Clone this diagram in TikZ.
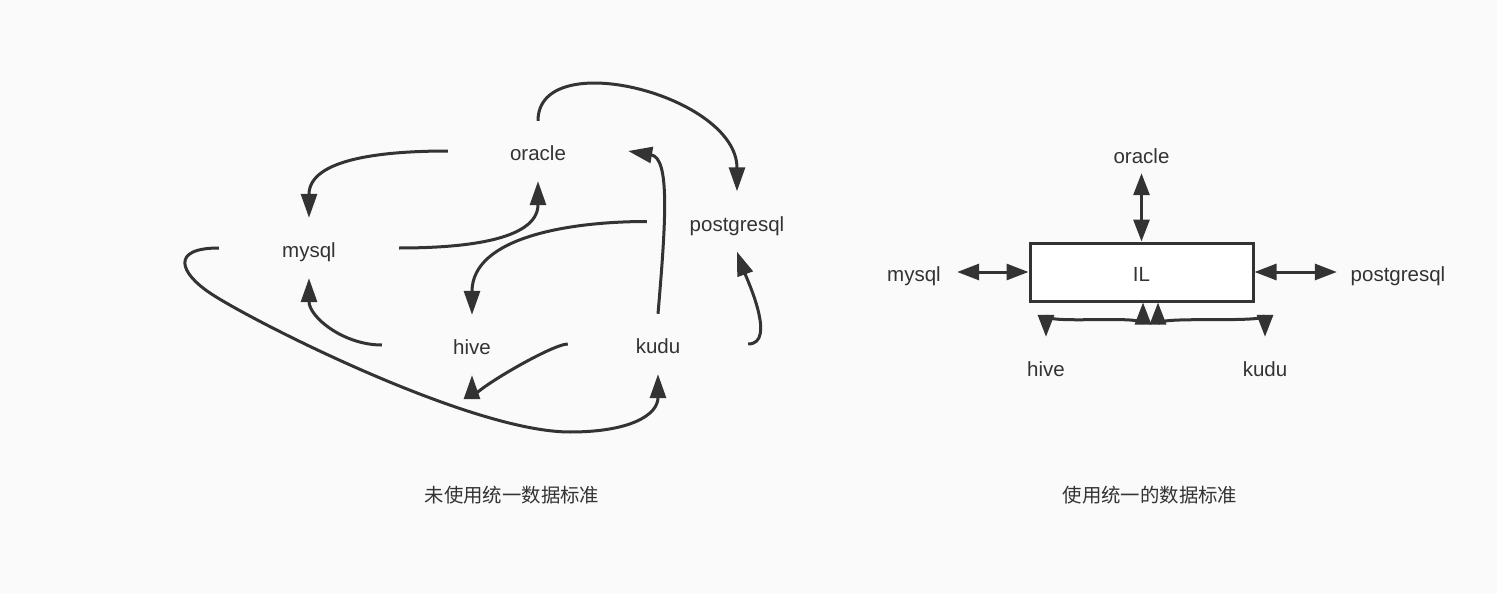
\documentclass[tikz,border=0pt]{standalone}
\usepackage{fontspec}
\setmainfont{Liberation Sans}
\newfontfamily\cjk{Noto Sans CJK SC}
\usepackage{pgf, tikz}
\usetikzlibrary{arrows.meta, calc}
\definecolor{ink}{HTML}{333333}
\definecolor{paper}{HTML}{FAFAFA}
\tikzset{
    db/.style={minimum width=180pt, minimum height=60pt, inner sep=0pt, text=ink,
        font=\fontsize{20.5}{24}\selectfont, text height=19pt, text depth=0pt},
    tag/.style={inner sep=0pt, text=ink,
        font=\fontsize{20.5}{24}\selectfont, text height=19pt, text depth=0pt},
    flow/.style={draw=ink, line width=3pt, -{Triangle[length=24pt, width=16pt]}},
    twoway/.style={draw=ink, line width=3pt,
        {Triangle[length=22pt, width=16pt]}-{Triangle[length=22pt, width=16pt]}},
    caption/.style={inner sep=0pt, text=ink, font=\cjk\fontsize{19.4}{23}\selectfont}
}

\begin{document}
\begin{tikzpicture}[x=1pt, y=1pt]
    \fill[paper] (0,0) rectangle (1497,-594);
    \useasboundingbox (0,0) rectangle (1497,-594);

    \node[db] (oracle) at (538,-151) {oracle};
    \node[db] (mysql) at (309,-248) {mysql};
    \node[db] (postgresql) at (737,-221.5) {postgresql};
    \node[db] (hive) at (472,-345) {hive};
    \node[db] (kudu) at (658,-344) {kudu};

    \draw[flow] (oracle.west) to[out=180, in=90] (mysql.north);
    \draw[flow] (mysql.east) to[out=0, in=-90] (oracle.south);
    \draw[flow] (postgresql.west) to[out=180, in=90] (hive.north);
    \draw[flow] (hive.west) to[out=180, in=-90] (mysql.south);
    \draw[flow] (kudu.west) to[out=180, in=-90, looseness=0.4] (hive.south);
    \draw[flow] (oracle.north) .. controls +(0,76) and +(0,96) .. (postgresql.north);
    \draw[flow] (kudu.north) .. controls (666,-220) and (670,-158) .. (oracle.east);
    \draw[flow] (kudu.east) to[out=0, in=-70, looseness=0.8] (postgresql.south);
    \draw[flow] (mysql.west) .. controls (170,-248) and (180,-273) .. (210,-293)
        .. controls (250,-320) and (470,-432) .. (570,-432)
        .. controls (630,-432) and (658,-415) .. (kudu.south);

    \node[draw=ink, line width=3pt, fill=white, minimum width=223pt, minimum height=58pt,
        inner sep=0pt, text=ink, font=\fontsize{20.5}{24}\selectfont,
        text height=19pt, text depth=0pt] (IL) at (1141.5,-272) {IL};
    \node[tag, minimum height=38pt] (oracleR) at (1141.5,-154) {oracle};
    \node[tag, minimum width=86pt] (mysqlR) at (914,-272) {mysql};
    \node[tag, minimum width=122pt] (postgresqlR) at (1398,-272) {postgresql};
    \node[tag, minimum height=59pt] (hiveR) at (1046,-366.5) {hive};
    \node[tag, minimum height=59pt] (kuduR) at (1265,-366.5) {kudu};

    \draw[twoway] (oracleR.south) -- (IL.north);
    \draw[twoway] (mysqlR.east) -- (IL.west);
    \draw[twoway] (IL.east) -- (postgresqlR.west);
    \draw[twoway] ([xshift=1.5pt]IL.south) to[out=-90, in=90, looseness=0.3] (hiveR.north);
    \draw[twoway] ([xshift=16.5pt]IL.south) to[out=-90, in=90, looseness=0.3] (kuduR.north);

    \node[caption] (capA) at (512,-495) {未使用统一数据标准};
    \node[caption] (capB) at (1150,-495) {使用统一的数据标准};
\end{tikzpicture}
\end{document}
